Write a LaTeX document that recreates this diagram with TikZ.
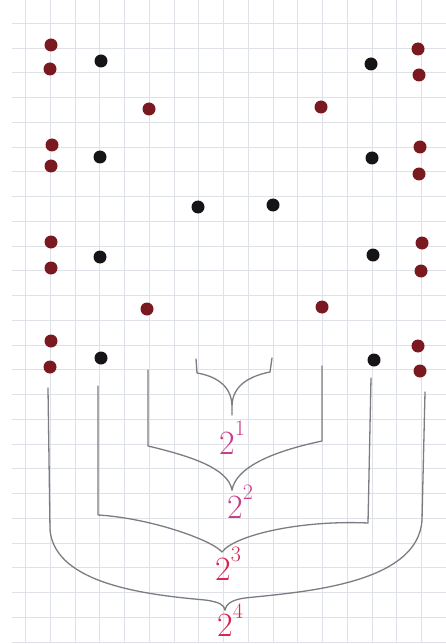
\documentclass[tikz,border=0pt]{standalone}
\usepackage{tikz}
\definecolor{dotred}{RGB}{122,26,32}
\definecolor{dotblack}{RGB}{22,20,22}
\definecolor{pencil}{RGB}{125,125,128}
\definecolor{gridgray}{RGB}{222,225,232}
\definecolor{pinkink}{RGB}{200,60,140}
\definecolor{redink}{RGB}{214,36,80}
\newcommand{\twopow}[1]{2\raisebox{0.55em}{\fontsize{22}{24}\selectfont #1}}

\begin{document}
\begin{tikzpicture}[x=1pt, y=-1pt,
    reddot/.style={circle, fill=dotred, inner sep=0pt, minimum size=13pt},
    blackdot/.style={circle, fill=dotblack, inner sep=0pt, minimum size=13pt},
    brace/.style={pencil, line width=1.3pt, line join=round, line cap=round},
    power/.style={font=\fontsize{34}{38}\selectfont, inner sep=0pt}]
    \useasboundingbox (0,0) rectangle (446,644);
    % 方眼紙
    \fill[white] (0,0) rectangle (446,644);
    \foreach \i in {1,...,18} {
        \draw[gridgray, line width=0.4pt] ({0.5+24.75*\i},0) -- ({0.5+24.75*\i},642);
    }
    \foreach \j in {0,...,25} {
        \draw[gridgray, line width=0.4pt] (12,{23+24.75*\j}) -- (446,{23+24.75*\j});
    }
    % 赤い点（左右の列）
    \foreach \n/\x/\y in {a1/51/45, a2/50/69, a3/52/145, a4/51/166,
                          a5/51/242, a6/51/268, a7/51/341, a8/50/367,
                          b1/418/49, b2/419/75, b3/420/147, b4/419/174,
                          b5/422/243, b6/421/271, b7/418/346, b8/420/371} {
        \node[reddot] (\n) at (\x,\y) {};
    }
    % 赤い点（内側）
    \foreach \n/\x/\y in {m1/149/109, m2/321/107, m3/147/309, m4/322/307} {
        \node[reddot] (\n) at (\x,\y) {};
    }
    % 黒い点
    \foreach \n/\x/\y in {k1/101/61, k2/100/157, k3/100/257, k4/101/358,
                          k5/371/64, k6/372/158, k7/373/255, k8/374/360,
                          c1/198/207, c2/273/205} {
        \node[blackdot] (\n) at (\x,\y) {};
    }
    % ラベル
    \node[power, text=pinkink] (p1) at (232,438) {\twopow{1}};
    \node[power, text=pinkink] (p2) at (240,502) {\twopow{2}};
    \node[power, text=redink] (p3) at (228,564) {\twopow{3}};
    \node[power, text=redink] (p4) at (230,620) {\twopow{4}};
    % かっこ 2^1
    \draw[brace] (196,359) -- (197,373) .. controls (215,376) and (231,385) .. (232,405) -- (232,415);
    \draw[brace] (272,358) -- (270,372) .. controls (250,376) and (233,385) .. (232,405);
    % かっこ 2^2
    \draw[brace] (148,370) -- (148,446) .. controls (190,456) and (228,468) .. (232,490);
    \draw[brace] (322,366) -- (322,441) .. controls (270,452) and (236,468) .. (232,490);
    % かっこ 2^3
    \draw[brace] (98,386) -- (98,515) .. controls (150,518) and (212,540) .. (222,552);
    \draw[brace] (371,378) -- (368,523) .. controls (300,520) and (235,535) .. (222,552);
    % かっこ 2^4
    \draw[brace] (48,388) -- (50,530) .. controls (55,585) and (150,595) .. (205,600)
        .. controls (220,602) and (224,605) .. (225,610);
    \draw[brace] (425,392) -- (422,520) .. controls (418,585) and (300,592) .. (245,598)
        .. controls (230,600) and (226,605) .. (225,610);
\end{tikzpicture}
\end{document}
